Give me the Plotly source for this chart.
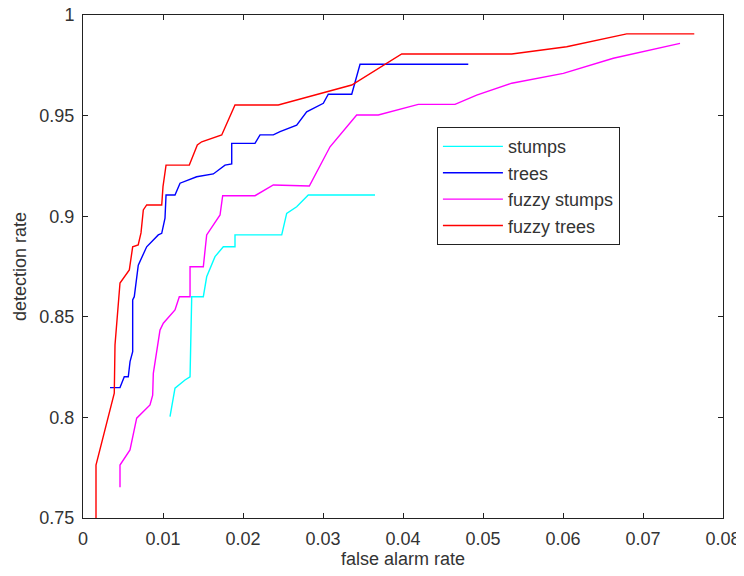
import plotly.graph_objects as go

# ---- data ----
stumps_x = [0.010875, 0.0115, 0.01275, 0.01338, 0.01359, 0.01504, 0.01546, 0.0165, 0.01754,
            0.019, 0.019, 0.02484, 0.02546, 0.02671, 0.02816, 0.0365]
stumps_y = [0.8004, 0.8145, 0.8186, 0.8202, 0.86, 0.86, 0.8699, 0.8799, 0.8848,
            0.8848, 0.8907, 0.8907, 0.9014, 0.9047, 0.9105, 0.9105]

trees_x = [0.003375, 0.004625, 0.00516, 0.00566, 0.00588, 0.00621, 0.00621, 0.00641, 0.00691,
           0.00796, 0.00941, 0.00984, 0.01025, 0.01038, 0.0115, 0.01213, 0.01421, 0.01629,
           0.01775, 0.01859, 0.01859, 0.0215, 0.02213, 0.02379, 0.02463, 0.02671, 0.02796,
           0.03004, 0.03066, 0.03359, 0.03463, 0.04816]
trees_y = [0.8148, 0.8148, 0.8202, 0.8202, 0.8277, 0.8327, 0.8584, 0.86, 0.8757,
           0.8848, 0.8907, 0.8915, 0.899, 0.9105, 0.9105, 0.9164, 0.9196, 0.921,
           0.9254, 0.926, 0.9362, 0.9362, 0.9404, 0.9404, 0.942, 0.9453, 0.9519,
           0.9561, 0.9606, 0.9606, 0.9755, 0.9755]

fstumps_x = [0.004625, 0.004625, 0.005875, 0.00671, 0.008375, 0.00871, 0.00879, 0.009625,
             0.01004, 0.0115, 0.01204, 0.01338, 0.01338, 0.01504, 0.01546, 0.01713, 0.01746,
             0.0215, 0.02379, 0.02829, 0.03088, 0.03421, 0.03691, 0.04191, 0.0465, 0.04921,
             0.05359, 0.06004, 0.06629, 0.07463]
fstumps_y = [0.7653, 0.7763, 0.7838, 0.7996, 0.8062, 0.8111, 0.8219, 0.8434,
             0.8468, 0.8534, 0.86, 0.86, 0.8749, 0.8749, 0.8907, 0.9006, 0.9102,
             0.9102, 0.9155, 0.915, 0.9345, 0.9503, 0.9503, 0.9556, 0.9556, 0.9602,
             0.9661, 0.971, 0.9785, 0.9859]

ftrees_x = [0.001625, 0.001625, 0.00391, 0.004, 0.004, 0.004625, 0.00579, 0.00621, 0.0069,
            0.00725, 0.00754, 0.00796, 0.00984, 0.01, 0.01038, 0.01329, 0.01429, 0.01484,
            0.01734, 0.019, 0.02441, 0.03359, 0.03984, 0.05359, 0.06046, 0.06796, 0.07641]
ftrees_y = [0.75, 0.7763, 0.8121, 0.832, 0.836, 0.8668, 0.8733, 0.8848, 0.8857,
            0.8917, 0.9031, 0.9056, 0.9056, 0.9147, 0.9254, 0.9254, 0.9354, 0.937,
            0.9404, 0.9553, 0.9553, 0.9652, 0.9806, 0.9806, 0.9842, 0.9906, 0.9906]

series_names = ["stumps", "trees", "fuzzy stumps", "fuzzy trees"]
series_colors = ["#00FFFF", "#0000FF", "#FF00FF", "#FF0000"]

x_ticks = [0, 0.01, 0.02, 0.03, 0.04, 0.05, 0.06, 0.07, 0.08]
x_ticklabels = ["0", "0.01", "0.02", "0.03", "0.04", "0.05", "0.06", "0.07", "0.08"]
y_ticks = [0.75, 0.8, 0.85, 0.9, 0.95, 1.0]
y_ticklabels = ["0.75", "0.8", "0.85", "0.9", "0.95", "1"]

FONT = "Liberation Sans, Arial, sans-serif"

fig = go.Figure()
for name, xs, ys, col in zip(series_names,
                             [stumps_x, trees_x, fstumps_x, ftrees_x],
                             [stumps_y, trees_y, fstumps_y, ftrees_y],
                             series_colors):
    fig.add_trace(go.Scatter(x=xs, y=ys, mode="lines", name=name, legendgroup=name,
                             line=dict(color=col, width=1.4)))

axis_common = dict(showline=True, linecolor="#222222", linewidth=1, mirror="ticks",
                   ticks="inside", ticklen=5, tickwidth=1, tickcolor="#222222",
                   showgrid=False, zeroline=False, automargin=False,
                   ticklabeloverflow="allow",
                   tickfont=dict(family=FONT, size=18, color="#333333"))

fig.update_xaxes(range=[0, 0.08], tickvals=x_ticks, ticktext=x_ticklabels,
                 title=dict(text="false alarm rate", font=dict(family=FONT, size=18, color="#333333"),
                            standoff=2),
                 ticklabelstandoff=4, **axis_common)
fig.update_yaxes(range=[0.75, 1.0], tickvals=y_ticks, ticktext=y_ticklabels,
                 title=dict(text="detection rate", font=dict(family=FONT, size=18, color="#333333"),
                            standoff=8),
                 ticklabelstandoff=4, **axis_common)

# page body adds an 8px margin, so the figure is sized 736x568
fig.update_layout(
    width=736, height=568,
    margin=dict(l=75, r=21, t=7, b=58),
    plot_bgcolor="white", paper_bgcolor="white",
    showlegend=True,
    legend=dict(x=0.553, y=0.777, xanchor="left", yanchor="top",
                bordercolor="#222222", borderwidth=1, bgcolor="white",
                font=dict(family=FONT, size=18, color="#333333"),
                tracegroupgap=0, itemwidth=60),
)

fig.write_html("out.html")
